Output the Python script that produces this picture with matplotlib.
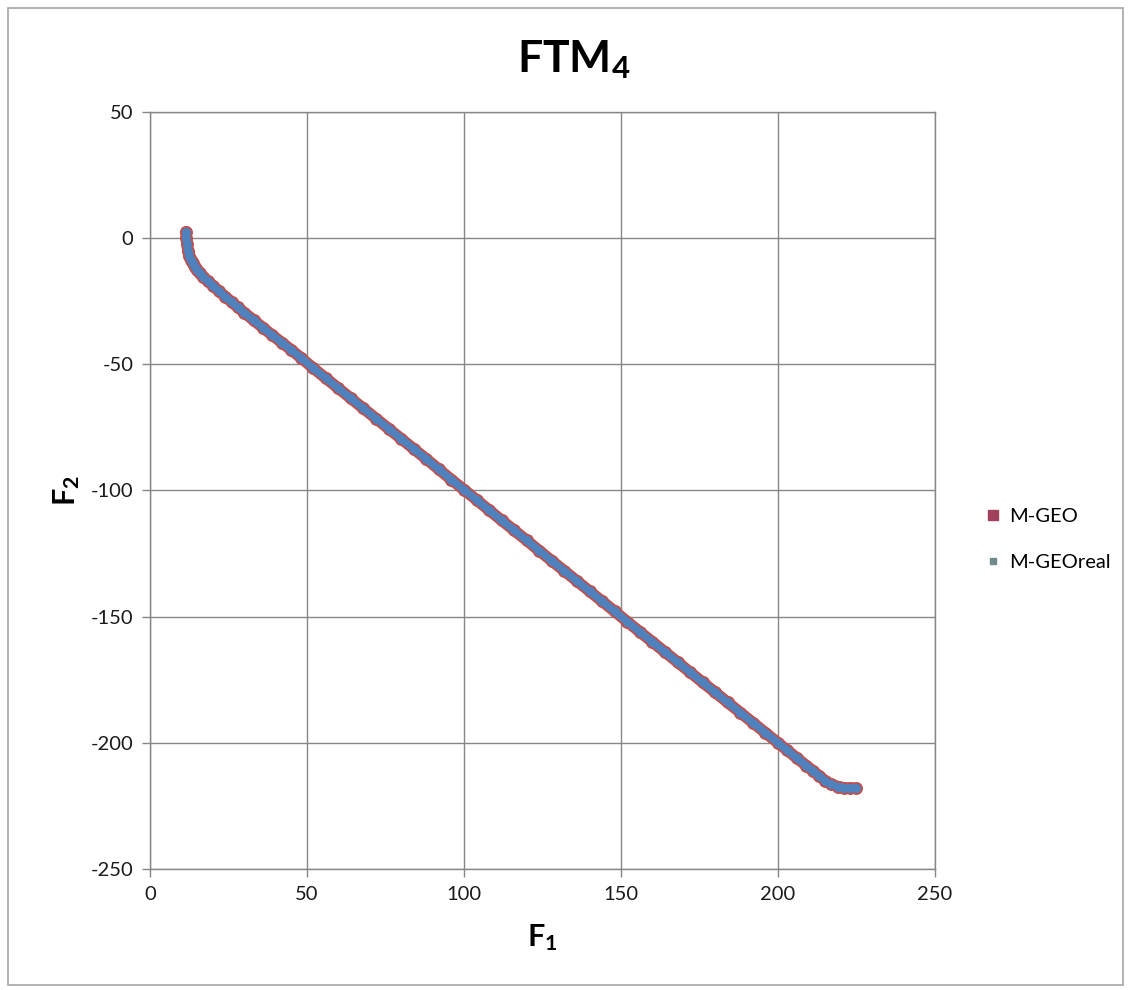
import matplotlib.pyplot as plt
from matplotlib.lines import Line2D
from matplotlib.patches import Rectangle

plt.rcParams['font.family'] = ['Lato', 'DejaVu Sans']
plt.rcParams['mathtext.default'] = 'regular'
plt.rcParams['axes.unicode_minus'] = False

# Pareto front samples (F1, F2)
f1 = [11.5, 11.6, 11.8, 12.1, 12.5, 13.0, 13.6, 14.3, 15.0, 16.0, 17.0, 18.5,
      20.0, 22.0, 24.0, 26.0, 28.0, 30.0, 33.0, 36.0, 39.0, 42.0, 45.0, 48.0,
      52.0, 56.0, 60.0, 64.0, 68.0, 72.0, 76.0, 80.0, 84.0, 88.0, 92.0, 96.0,
      100.0, 104.0, 108.0, 112.0, 116.0, 120.0, 124.0, 128.0, 132.0, 136.0,
      140.0, 144.0, 148.0, 152.0, 156.0, 160.0, 164.0, 168.0, 172.0, 176.0,
      180.0, 184.0, 188.0, 192.0, 196.0, 200.0, 203.0, 206.0, 209.0, 211.0,
      213.0, 215.0, 217.0, 219.0, 221.0, 223.0, 225.0]
f2_mgeo = [2.5, 0.0, -2.5, -5.0, -7.0, -8.5, -10.0, -11.5, -12.5, -14.0, -15.5, -17.0,
           -18.8, -21.0, -23.2, -25.3, -27.4, -29.5, -32.5, -35.5, -38.5, -41.4, -44.3, -47.3,
           -51.5, -55.5, -59.5, -63.5, -67.5, -71.5, -75.5, -79.5, -83.5, -87.5, -91.6, -95.7,
           -99.7, -103.7, -107.8, -111.8, -115.8, -119.8, -123.9, -127.9, -131.9, -135.9,
           -139.9, -143.9, -147.9, -152.0, -156.0, -160.0, -164.0, -168.0, -172.0, -176.0,
           -180.0, -184.0, -188.0, -192.0, -196.0, -200.0, -203.0, -206.0, -209.0, -211.0,
           -213.0, -215.0, -216.5, -217.3, -217.8, -218.0, -218.0]
f2_real = list(f2_mgeo)

series_names = ['M-GEO', 'M-GEOreal']
series_colors = ['#C0504D', '#4F81BD']

fig = plt.figure(figsize=(11.31, 9.9), dpi=100)
ax = fig.add_axes([0.1326, 0.1222, 0.6941, 0.7647])

# outer chart border
fig.patches.append(Rectangle((0.007, 0.005), 0.986, 0.987, transform=fig.transFigure,
                             fill=False, edgecolor='#A6A6A6', linewidth=1.2))

# dense marker bands: M-GEO underneath, M-GEOreal on top
ax.plot(f1, f2_mgeo, color=series_colors[0], linewidth=8.3, marker='o', markersize=8.3,
        solid_capstyle='round', solid_joinstyle='round', zorder=3)
ax.plot(f1, f2_real, color=series_colors[1], linewidth=5.6, marker='o', markersize=5.6,
        solid_capstyle='round', solid_joinstyle='round', zorder=4)

ax.set_xlim(0, 250)
ax.set_ylim(-250, 50)
ax.set_xticks(range(0, 251, 50))
ax.set_yticks(range(-250, 51, 50))
ax.grid(True, color='#868686', linewidth=1.0)
ax.set_axisbelow(True)
for sp in ax.spines.values():
    sp.set_color('#868686')
    sp.set_linewidth(1.0)
ax.tick_params(axis='both', colors='#868686', labelcolor='#1a1a1a', labelsize=14.5,
               length=6, width=1.0, direction='out')
ax.tick_params(axis='x', pad=6)
ax.tick_params(axis='y', pad=6)

ax.set_xlabel('F$_1$', fontsize=22, fontweight='bold', labelpad=14)
ax.set_ylabel('F$_2$', fontsize=22, fontweight='bold', labelpad=6)
fig.text(0.507, 0.94, 'FTM$_4$', fontsize=32, fontweight='bold', ha='center', va='center')

handles = [
    Line2D([], [], linestyle='none', marker='s', markersize=7, color='#A0405A'),
    Line2D([], [], linestyle='none', marker='s', markersize=5, color='#6E8A8A'),
]
fig.legend(handles, series_names, loc='center left', bbox_to_anchor=(0.857, 0.455),
           frameon=False, fontsize=14.5, handlelength=0.6, handletextpad=0.5,
           labelspacing=1.4)

fig.savefig('out.png', dpi=100, facecolor='white')
